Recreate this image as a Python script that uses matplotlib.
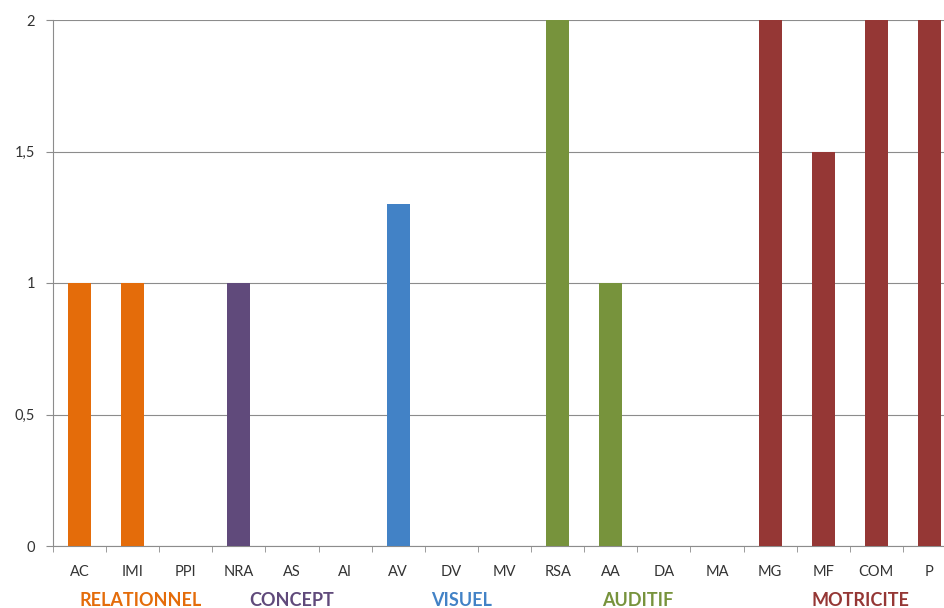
import matplotlib
matplotlib.use("Agg")
import matplotlib.pyplot as plt
import numpy as np

plt.rcParams['font.family'] = ['Lato', 'DejaVu Sans']

categories = ["AC", "IMI", "PPI", "NRA", "AS", "AI", "AV", "DV", "MV",
              "RSA", "AA", "DA", "MA", "MG", "MF", "COM", "P"]
values = [1, 1, 0, 1, 0, 0, 1.3, 0, 0, 2, 1, 0, 0, 2, 1.5, 2, 2]
groups = ["REL", "REL", "REL", "CON", "CON", "CON", "VIS", "VIS", "VIS",
          "AUD", "AUD", "AUD", "AUD", "MOT", "MOT", "MOT", "MOT"]

group_names = ["RELATIONNEL", "CONCEPT", "VISUEL", "AUDITIF", "MOTRICITE"]
group_keys = ["REL", "CON", "VIS", "AUD", "MOT"]
group_label_pos = [1.15, 4.0, 7.2, 10.5, 14.7]
group_colors = {"REL": "#E46C0A", "CON": "#604A7B", "VIS": "#4282C6",
                "AUD": "#77933C", "MOT": "#953735"}

fig = plt.figure(figsize=(9.45, 6.08), dpi=100)
ax = fig.add_axes([53 / 945, 1 - 546 / 608, 903 / 945, 526 / 608])

x = np.arange(len(categories))
ax.bar(x, values, width=0.43, color=[group_colors[g] for g in groups], zorder=3)

ax.set_xlim(-0.5, len(categories) - 0.5)
ax.set_ylim(0, 2)
ax.set_yticks([0, 0.5, 1, 1.5, 2])
ax.set_yticklabels(["0", "0,5", "1", "1,5", "2"])
ax.yaxis.grid(True, color="#8c8c8c", linewidth=0.8, zorder=0)

ax.set_xticks(x)
ax.set_xticklabels(categories)
ax.set_xticks(np.arange(-0.5, len(categories)), minor=True)
ax.tick_params(axis="x", which="major", length=0, pad=14, labelsize=10.5, colors="#333333")
ax.tick_params(axis="x", which="minor", length=4, color="#8c8c8c", direction="out")
ax.tick_params(axis="y", length=5, width=0.8, color="#8c8c8c", pad=8, labelsize=10.5,
               labelcolor="#333333")

for side in ["top", "right"]:
    ax.spines[side].set_visible(False)
ax.spines["left"].set_color("#8c8c8c")
ax.spines["bottom"].set_color("#8c8c8c")

for name, key, pos in zip(group_names, group_keys, group_label_pos):
    ax.annotate(name, xy=(pos, 0), xycoords=("data", "axes fraction"),
                xytext=(0, -39), textcoords="offset points", ha="center",
                va="center", fontsize=13, fontweight="bold",
                color=group_colors[key])

fig.savefig("out.png", dpi=100)
